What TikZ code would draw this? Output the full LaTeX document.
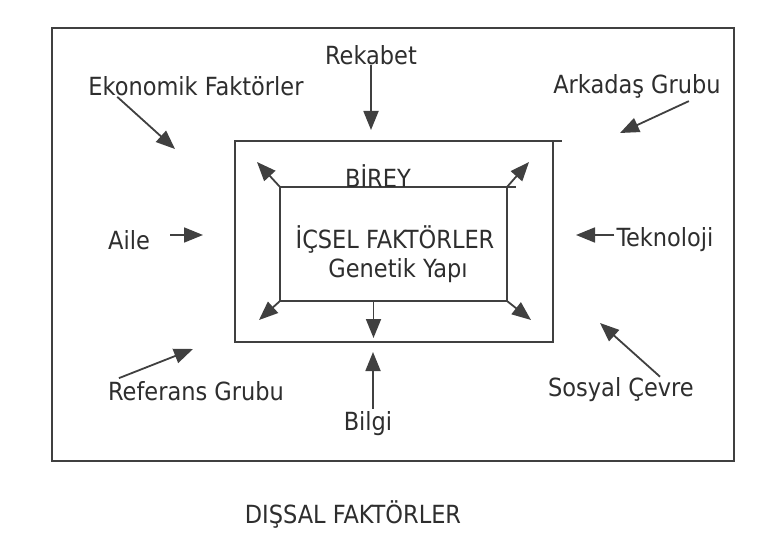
\documentclass[tikz,border=0pt]{standalone}
\usepackage{fontspec}
\setmainfont{DejaVu Sans Condensed}
\usepackage{tikz}
\usetikzlibrary{arrows.meta,calc}
\definecolor{cizgi}{HTML}{404040}
\definecolor{yazi}{HTML}{2E2E2E}

\begin{document}
\begin{tikzpicture}[x=1pt, y=-1pt,
      etiket/.style={font=\fontsize{25}{28}\selectfont, text=yazi, inner sep=0pt},
      kutu/.style={rectangle, draw=cizgi, line width=2pt, inner sep=0pt, outer sep=0pt},
      ok/.style={-{Triangle[length=19pt,width=15pt]}, draw=cizgi, line width=1.8pt}]

    \useasboundingbox (0,0) rectangle (776,548);
    \fill[white] (0,0) rectangle (776,548);

    % kutular
    \node[kutu, minimum width=682pt, minimum height=433pt] (dis) at (393,244.5) {};
    \node[kutu, minimum width=318pt, minimum height=201pt] (birey) at (394,241.5) {};
    \node[kutu, minimum width=227pt, minimum height=114pt] (ic) at (393.5,244) {};
    \draw[cizgi, line width=2pt] (birey.north east) -- ++(9,0);
    \draw[cizgi, line width=2pt] (ic.north east) -- ++(9,0);

    % etiketler
    \node[etiket] (rekabet) at (371,55) {Rekabet};
    \node[etiket] (ekonomik) at (196,86) {Ekonomik Faktörler};
    \node[etiket] (arkadas) at (637,86) {Arkadaş Grubu};
    \node[etiket] (aile) at (129,240) {Aile};
    \node[etiket] (teknoloji) at (665,240) {Teknoloji};
    \node[etiket] (referans) at (196,391) {Referans Grubu};
    \node[etiket] (sosyal) at (621,390) {Sosyal Çevre};
    \node[etiket] (bilgi) at (368,424) {Bilgi};
    \node[etiket] (bireyad) at (378,176) {BİREY};
    \node[etiket] (icsel) at (395,239) {İÇSEL FAKTÖRLER};
    \node[etiket] (genetik) at (398,271) {Genetik Yapı};
    \node[etiket] (dissal) at (353,514) {DIŞSAL FAKTÖRLER};

    % dis etkenler
    \draw[ok] (rekabet) -- (371,130);
    \draw[ok] ($(ekonomik.south west)+(29,1)$) -- (175,149);
    \draw[ok] ($(arkadas.south east)+(-32,3)$) -- (620,133);
    \draw[ok] ($(aile.east)+(20,-5)$) -- (203,235);
    \draw[ok] ($(teknoloji.west)+(-2,-5)$) -- (576,235);
    \draw[ok] ($(referans.north west)+(11,-3)$) -- (193,349);
    \draw[ok] ($(sosyal.north east)+(-34,-1)$) -- (600,323);
    \draw[ok] ($(bilgi.north)+(5,-3)$) -- (373,352);

    % ic oklar
    \draw[ok] (ic.north west) -- ++(-23,-25);
    \draw[ok] (ic.north east) -- ++(22,-25);
    \draw[ok] (ic.south west) -- ++(-21,19);
    \draw[ok] (ic.south east) -- ++(24,19);
    \draw[ok] ($(ic.south)+(-20,0)$) -- ++(0,37);
\end{tikzpicture}
\end{document}
